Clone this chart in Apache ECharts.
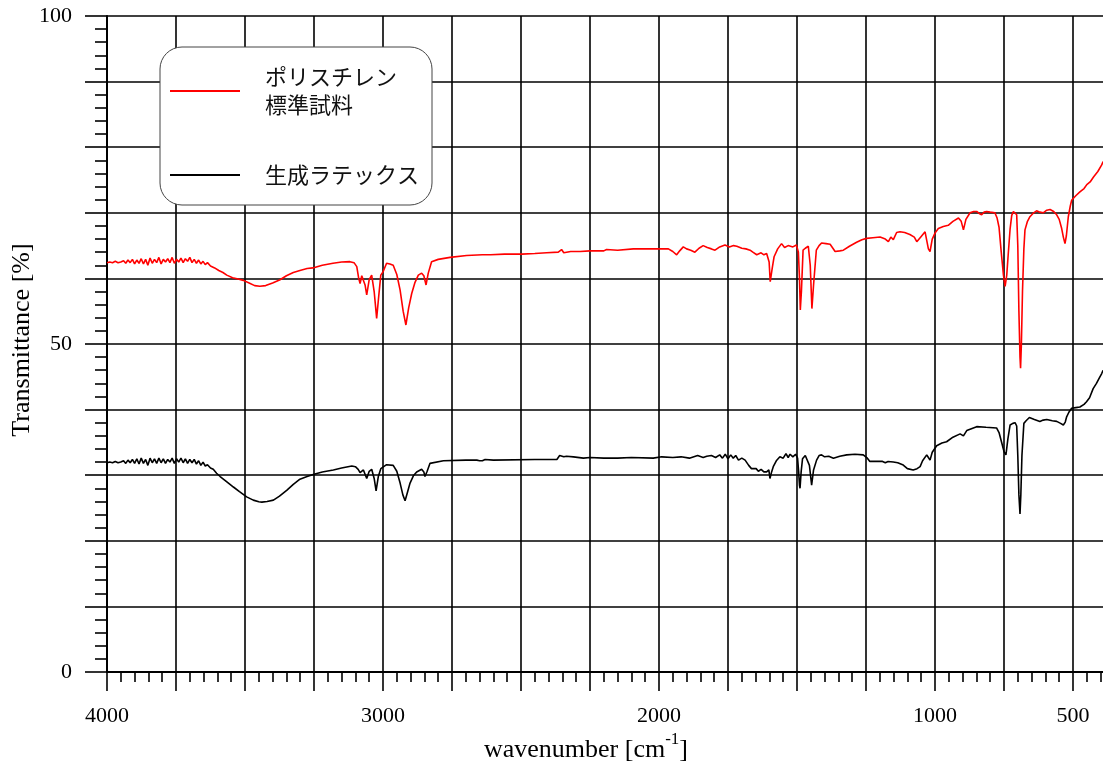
<!DOCTYPE html>
<html>
<head>
<meta charset="utf-8">
<script src="https://cdn.jsdelivr.net/npm/echarts@6/dist/echarts.min.js"></script>
<style>
  html, body { margin: 0; padding: 0; background: #fff; }
  #chart { width: 1103px; height: 769px; }
</style>
</head>
<body>
<div id="chart"></div>
<script>
// IR transmittance spectra: [wavenumber (cm-1), transmittance (%)]
const seriesNames = ['ポリスチレン\n標準試料', '生成ラテックス'];

const polystyreneStd = [
  [4000,62.4],[3990,62.5],[3980,62.4],[3970,62.6],[3960,62.4],[3950,62.5],[3940,62.7],[3932,62.3],[3924,62.8],[3916,62.4],
  [3908,62.9],[3900,62.2],[3892,62.8],[3884,62.3],[3876,63.0],[3868,62.2],[3860,62.9],[3852,62.0],[3844,63.1],[3836,62.3],
  [3828,62.9],[3820,62.4],[3812,63.2],[3804,62.2],[3796,62.9],[3788,62.5],[3780,63.0],[3772,62.4],[3764,63.2],[3756,62.3],
  [3748,62.9],[3740,62.5],[3732,63.1],[3724,62.4],[3716,63.0],[3708,62.6],[3700,63.2],[3692,62.4],[3684,62.9],[3676,62.3],
  [3668,62.8],[3660,62.2],[3652,62.6],[3644,62.1],[3636,62.4],[3625,61.9],[3610,61.6],[3595,61.2],[3580,60.9],[3566,60.5],
  [3545,60.1],[3525,59.9],[3506,59.7],[3485,59.3],[3465,58.9],[3446,58.8],[3425,58.9],[3400,59.3],[3373,59.8],[3350,60.4],
  [3325,60.9],[3301,61.2],[3275,61.5],[3254,61.6],[3220,62.0],[3181,62.3],[3150,62.5],[3120,62.55],[3105,62.4],[3095,61.8],
  [3088,60.0],[3083,59.2],[3077,60.4],[3071,60.3],[3065,59.0],[3059,57.5],[3050,59.8],[3041,60.5],[3032,58.0],[3023,53.9],
  [3015,57.5],[3008,60.5],[3000,61.0],[2987,62.3],[2975,62.2],[2963,62.0],[2950,60.6],[2938,58.2],[2927,55.0],[2917,52.9],
  [2907,55.5],[2896,57.7],[2884,59.4],[2872,60.5],[2860,60.8],[2852,60.4],[2844,59.0],[2836,60.8],[2824,62.55],[2800,62.9],
  [2757,63.2],[2697,63.5],[2640,63.6],[2620,63.6],[2615,63.8],[2610,63.6],[2560,63.7],[2497,63.7],[2450,63.8],[2407,63.9],
  [2365,64.0],[2353,64.4],[2345,63.9],[2320,64.1],[2286,64.1],[2250,64.2],[2200,64.2],[2190,64.4],[2185,64.1],[2150,64.3],
  [2093,64.5],[2000,64.5],[1966,64.5],[1950,64.1],[1936,63.6],[1925,64.2],[1912,64.8],[1900,64.5],[1885,64.3],[1870,64.0],
  [1855,64.6],[1840,65.0],[1825,64.7],[1810,64.5],[1797,64.3],[1780,64.8],[1761,65.1],[1745,64.8],[1730,65.0],[1718,64.9],
  [1700,64.6],[1685,64.5],[1670,64.3],[1660,64.0],[1646,63.6],[1630,63.9],[1620,63.6],[1610,63.8],[1601,62.5],[1597,59.5],
  [1590,61.5],[1583,63.3],[1570,64.5],[1556,65.3],[1545,64.7],[1532,65.0],[1515,64.8],[1502,65.1],[1495,64.0],[1491,60.0],
  [1488,55.2],[1484,58.0],[1478,64.3],[1470,64.6],[1459,64.9],[1452,62.0],[1446,55.4],[1440,59.0],[1430,64.3],[1420,65.0],
  [1411,65.4],[1395,65.3],[1380,65.2],[1370,64.6],[1362,64.1],[1345,64.2],[1332,64.3],[1310,64.9],[1284,65.5],[1265,65.9],
  [1248,66.1],[1225,66.2],[1199,66.3],[1180,66.0],[1169,65.6],[1160,66.3],[1151,65.9],[1139,67.0],[1127,67.1],[1110,67.0],
  [1091,66.7],[1075,66.3],[1066,65.6],[1060,65.3],[1050,66.4],[1036,67.1],[1030,66.8],[1024,64.5],[1018,64.1],[1010,66.0],
  [1000,66.9],[988,67.6],[970,67.9],[952,68.1],[935,68.7],[915,69.2],[905,68.7],[897,67.4],[888,69.0],[873,70.0],
  [860,70.2],[849,70.2],[840,69.9],[831,69.7],[822,70.1],[813,70.2],[800,70.1],[783,70.0],[775,69.2],[768,67.8],
  [760,64.0],[752,60.5],[746,58.8],[740,60.5],[735,63.5],[728,67.5],[722,69.6],[716,70.2],[710,70.0],[704,69.7],
  [700,65.0],[696,55.0],[692,48.0],[690,46.3],[687,50.0],[683,58.0],[678,64.5],[674,67.4],[665,68.7],[656,69.4],
  [645,69.9],[632,70.3],[620,70.1],[608,70.0],[595,70.4],[583,70.5],[570,70.2],[559,69.7],[550,69.0],[541,67.6],
  [535,66.3],[529,65.3],[524,66.5],[517,69.4],[510,71.0],[505,71.9],[490,72.6],[475,73.2],[460,73.7],[450,74.3],
  [438,74.7],[425,75.5],[410,76.3],[396,77.3],[391,77.8]
];

const latex = [
  [4000,31.9],[3990,32.0],[3980,31.9],[3970,32.1],[3960,31.9],[3950,32.0],[3940,32.2],[3932,31.8],[3924,32.3],[3916,31.9],
  [3908,32.4],[3900,31.8],[3892,32.5],[3884,31.7],[3876,32.6],[3868,31.8],[3860,32.4],[3852,31.5],[3844,32.6],[3836,31.9],
  [3828,32.5],[3820,31.8],[3812,32.6],[3804,31.9],[3796,32.5],[3788,31.8],[3780,32.4],[3772,32.0],[3764,32.6],[3756,31.8],
  [3748,32.5],[3740,32.0],[3732,32.6],[3724,31.9],[3716,32.5],[3708,31.8],[3700,32.4],[3692,31.9],[3684,32.4],[3676,31.7],
  [3668,32.2],[3660,31.5],[3652,32.0],[3644,31.4],[3636,31.6],[3625,31.1],[3615,30.9],[3603,30.3],[3590,29.8],[3575,29.3],
  [3560,28.8],[3542,28.2],[3520,27.5],[3494,26.7],[3470,26.2],[3450,25.95],[3439,25.9],[3420,26.0],[3397,26.2],[3375,26.8],
  [3349,27.7],[3325,28.6],[3301,29.4],[3275,29.8],[3253,30.1],[3220,30.5],[3180,30.8],[3150,31.1],[3113,31.4],[3100,31.3],
  [3090,30.9],[3083,30.4],[3077,30.3],[3071,30.8],[3065,30.9],[3059,29.5],[3050,30.6],[3041,30.9],[3032,29.5],[3025,27.6],
  [3017,29.8],[3008,31.0],[2987,31.6],[2963,31.5],[2950,30.6],[2938,28.8],[2928,27.0],[2920,26.1],[2910,27.6],[2902,28.8],
  [2890,29.9],[2878,30.5],[2860,30.9],[2852,30.5],[2848,29.8],[2840,30.6],[2830,31.8],[2824,31.9],[2781,32.2],[2700,32.3],
  [2660,32.3],[2655,32.4],[2650,32.2],[2645,32.4],[2640,32.2],[2630,32.4],[2600,32.3],[2450,32.4],[2370,32.4],[2360,33.0],
  [2353,33.1],[2345,32.8],[2335,32.9],[2310,32.8],[2274,32.6],[2250,32.7],[2200,32.6],[2150,32.6],[2100,32.7],[2021,32.6],
  [1990,32.8],[1950,32.7],[1920,32.8],[1890,32.6],[1860,33.0],[1840,32.7],[1827,32.9],[1810,33.0],[1795,32.7],[1780,33.1],
  [1770,32.6],[1760,33.2],[1750,32.5],[1740,33.1],[1731,32.6],[1722,33.0],[1712,32.3],[1700,32.6],[1688,32.3],[1675,31.5],
  [1665,31.0],[1658,30.8],[1648,31.0],[1640,30.6],[1630,30.9],[1620,30.5],[1610,30.5],[1602,30.8],[1598,29.5],[1592,30.5],
  [1586,31.3],[1575,32.2],[1562,32.8],[1550,32.6],[1540,33.3],[1532,32.7],[1525,33.2],[1515,32.8],[1505,33.2],[1498,32.6],
  [1494,30.5],[1491,28.5],[1489,28.0],[1485,30.5],[1480,32.5],[1470,33.0],[1463,33.1],[1455,31.5],[1447,28.5],[1440,30.8],
  [1429,32.3],[1420,33.0],[1411,33.1],[1400,32.8],[1385,32.9],[1368,32.6],[1345,32.9],[1320,33.1],[1290,33.2],[1260,33.1],
  [1245,32.6],[1236,32.1],[1210,32.1],[1190,32.1],[1180,31.9],[1170,32.1],[1151,32.0],[1135,31.9],[1115,31.55],[1100,31.0],
  [1079,30.8],[1065,31.0],[1054,31.3],[1045,32.2],[1030,33.1],[1024,32.7],[1018,32.3],[1010,33.5],[994,34.5],[975,34.9],
  [958,35.1],[935,35.8],[909,36.3],[897,36.0],[885,36.8],[879,37.1],[849,37.4],[815,37.3],[777,37.2],[768,36.5],
  [758,34.9],[750,33.6],[743,33.1],[736,35.5],[728,37.65],[718,37.9],[710,38.0],[704,37.5],[700,33.0],[696,27.0],
  [692,24.1],[689,27.0],[685,33.0],[678,37.9],[670,38.3],[658,38.8],[640,38.5],[620,38.2],[608,38.4],[595,38.5],
  [575,38.3],[559,38.2],[545,37.9],[535,37.65],[528,38.1],[523,38.9],[515,39.6],[505,40.2],[490,40.3],[475,40.4],
  [460,40.8],[451,41.2],[440,41.8],[427,43.2],[415,44.0],[405,44.8],[396,45.5],[391,46.0]
];

// labelled ticks
const xTickLabels = [4000, 3000, 2000, 1000, 500];
const yTickLabels = [0, 50, 100];

const serif = '"Liberation Serif", "DejaVu Serif", serif';
const cjk = '"Noto Sans CJK JP", "Noto Sans", sans-serif';

const chart = echarts.init(document.getElementById('chart'), null, { renderer: 'canvas' });

const axisLine = { show: true, lineStyle: { color: '#000', width: 2 } };
const gridLine = { show: true, lineStyle: { color: '#000', width: 1.6 } };

chart.setOption({
  animation: false,
  backgroundColor: '#fff',
  // the plot runs on past the right edge of the canvas
  grid: { left: 107, top: 16, width: 1035, height: 656, containLabel: false, outerBoundsMode: 'none' },
  legend: {
    orient: 'vertical',
    left: 160,
    top: 47,
    padding: [16, 13, 16, 10],
    itemGap: 42,
    itemWidth: 70,
    itemHeight: 2,
    icon: 'rect',
    backgroundColor: '#fff',
    borderColor: '#444',
    borderWidth: 1,
    borderRadius: 22,
    textStyle: { fontFamily: cjk, fontSize: 22, lineHeight: 28, color: '#111', padding: [0, 0, 0, 20] },
    data: seriesNames
  },
  xAxis: {
    type: 'value',
    inverse: true,
    min: 250,
    max: 4000,
    interval: 250,
    axisLine: axisLine,
    axisTick: { show: true, length: 19, lineStyle: { color: '#000', width: 1.6 } },
    minorTick: { show: true, splitNumber: 5, length: 10, lineStyle: { color: '#000', width: 1.6 } },
    splitLine: gridLine,
    axisLabel: {
      margin: 33,
      fontFamily: serif,
      fontSize: 22,
      color: '#000',
      showMinLabel: true,
      showMaxLabel: true,
      formatter: v => xTickLabels.includes(v) ? String(v) : ''
    }
  },
  yAxis: {
    type: 'value',
    min: 0,
    max: 100,
    interval: 10,
    axisLine: axisLine,
    axisTick: { show: true, length: 22, lineStyle: { color: '#000', width: 1.6 } },
    minorTick: { show: true, splitNumber: 5, length: 12, lineStyle: { color: '#000', width: 1.6 } },
    splitLine: gridLine,
    axisLabel: {
      margin: 35,
      fontFamily: serif,
      fontSize: 22,
      color: '#000',
      formatter: v => yTickLabels.includes(v) ? String(v) : ''
    }
  },
  graphic: [
    {
      type: 'text',
      x: 22,
      y: 340,
      rotation: Math.PI / 2,
      style: {
        text: 'Transmittance [%]',
        fontFamily: serif,
        fontSize: 26,
        fill: '#000',
        align: 'center',
        verticalAlign: 'middle'
      }
    },
    {
      type: 'text',
      left: 484,
      top: 731,
      style: {
        text: '{a|wavenumber [cm}{s|-1}{a|]}',
        rich: {
          a: { fontFamily: serif, fontSize: 26, fill: '#000', verticalAlign: 'bottom', lineHeight: 32 },
          s: { fontFamily: serif, fontSize: 17, fill: '#000', verticalAlign: 'top', lineHeight: 32, padding: [0, 0, 12, 0] }
        }
      }
    }
  ],
  series: [
    {
      name: seriesNames[0],
      type: 'line',
      data: polystyreneStd,
      showSymbol: false,
      symbol: 'none',
      color: '#ff0000',
      lineStyle: { color: '#ff0000', width: 1.6 },
      z: 3
    },
    {
      name: seriesNames[1],
      type: 'line',
      data: latex,
      showSymbol: false,
      symbol: 'none',
      color: '#000',
      lineStyle: { color: '#000', width: 1.6 },
      z: 3
    }
  ]
});
</script>
</body>
</html>
